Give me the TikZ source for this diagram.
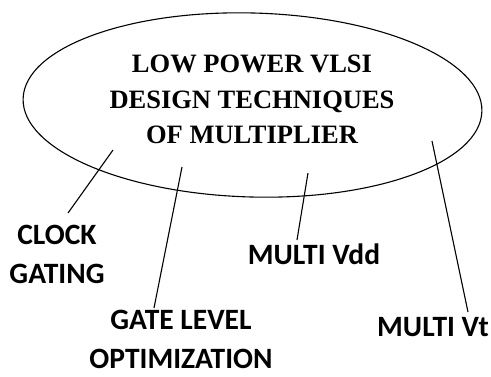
\documentclass[tikz,border=0pt]{standalone}
\usepackage{fontspec}
\newfontfamily\titlefont{Liberation Serif}[BoldFont={* Bold}]
\newfontfamily\labelfont{Carlito}[BoldFont={* Bold}]
\begin{document}
\begin{tikzpicture}[x=1pt,y=-1pt,
  titletext/.style={align=center,inner sep=0pt,font=\titlefont\bfseries\fontsize{26.5}{35.5}\selectfont},
  labeltext/.style={align=center,inner sep=0pt,font=\labelfont\bfseries\fontsize{29.5}{39}\selectfont},
  conn/.style={line width=1.1pt}]
\useasboundingbox (0,0) rectangle (491,376);
\coordinate (c) at (252.5,105);
\draw[line width=1.1pt] (c) ellipse [x radius=229.5, y radius=92, rotate=-1.6];
\node[titletext] (title) at (252,99.5) {LOW POWER VLSI\\DESIGN TECHNIQUES\\OF MULTIPLIER};
\node[labeltext] (clock) at (57,254) {CLOCK\\GATING};
\node[labeltext] (gate) at (181,339) {GATE LEVEL\\OPTIMIZATION};
\node[labeltext] (vdd) at (314,254) {MULTI Vdd};
\node[labeltext] (vt) at (433,327.5) {MULTI Vt};
\coordinate (s1) at (113,150);  \coordinate (e1) at (68,213);
\coordinate (s2) at (182,167);  \coordinate (e2) at (154,308);
\coordinate (s3) at (308,173);  \coordinate (e3) at (297,240);
\coordinate (s4) at (432,141);  \coordinate (e4) at (468,312);
\draw[conn] (s1) -- (e1);
\draw[conn] (s2) -- (e2);
\draw[conn] (s3) -- (e3);
\draw[conn] (s4) -- (e4);
\end{tikzpicture}
\end{document}
